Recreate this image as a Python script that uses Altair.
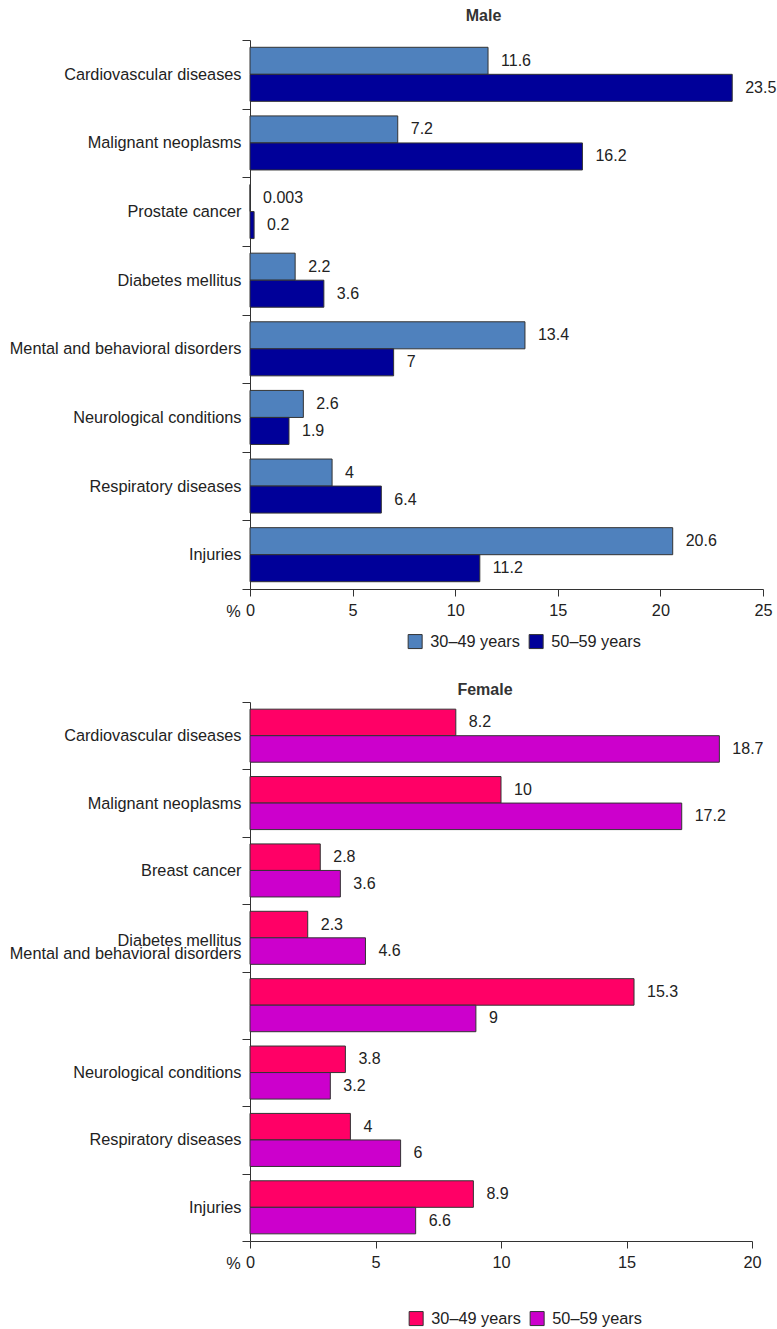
import altair as alt
import pandas as pd

# Causes of disability, share of cases (%) by age group
age_groups = ["30\u201349 years", "50\u201359 years"]

male_categories = [
    "Cardiovascular diseases",
    "Malignant neoplasms",
    "Prostate cancer",
    "Diabetes mellitus",
    "Mental and behavioral disorders",
    "Neurological conditions",
    "Respiratory diseases",
    "Injuries",
]
male_30_49 = [11.6, 7.2, 0.003, 2.2, 13.4, 2.6, 4, 20.6]
male_50_59 = [23.5, 16.2, 0.2, 3.6, 7, 1.9, 6.4, 11.2]

female_categories = [
    "Cardiovascular diseases",
    "Malignant neoplasms",
    "Breast cancer",
    "Diabetes mellitus",
    "Mental and behavioral disorders",
    "Neurological conditions",
    "Respiratory diseases",
    "Injuries",
]
female_30_49 = [8.2, 10, 2.8, 2.3, 15.3, 3.8, 4, 8.9]
female_50_59 = [18.7, 17.2, 3.6, 4.6, 9, 3.2, 6, 6.6]

male_colors = ["#4F81BD", "#000099"]
female_colors = ["#FF0066", "#CC00CC"]

male_ticks = [0, 5, 10, 15, 20, 25]
female_ticks = [0, 5, 10, 15, 20]

FONT = "Liberation Sans"
TEXT = "#222222"
LINE = "#333333"


def frame(categories, young, old):
    rows = []
    for cat, a, b in zip(categories, young, old):
        rows.append({"category": cat, "age": age_groups[0], "value": a, "label": str(a)})
        rows.append({"category": cat, "age": age_groups[1], "value": b, "label": str(b)})
    return pd.DataFrame(rows)


def panel(title, title_dx, title_offset, categories, young, old, colors, ticks,
          width, height, legend_x, legend_y, label_expr=None, label_offset=None):
    df = frame(categories, young, old)
    base = alt.Chart(df)

    y_axis_kwargs = dict(
        title=None,
        tickBand="extent",
        tickSize=8,
        tickColor=LINE,
        domainColor=LINE,
        labelFontSize=16.3,
        labelFont=FONT,
        labelColor=TEXT,
        labelPadding=1,
        labelLimit=400,
        labelLineHeight=13,
    )
    if label_expr is not None:
        y_axis_kwargs["labelExpr"] = label_expr
    if label_offset is not None:
        y_axis_kwargs["labelOffset"] = label_offset

    y = alt.Y(
        "category:N",
        sort=categories,
        scale=alt.Scale(paddingInner=0, paddingOuter=0),
        axis=alt.Axis(**y_axis_kwargs),
    )
    y_off = alt.YOffset(
        "age:N",
        sort=age_groups,
        scale=alt.Scale(paddingInner=0, paddingOuter=0.27),
    )
    x = alt.X(
        "value:Q",
        scale=alt.Scale(domain=[ticks[0], ticks[-1]], nice=False),
        axis=alt.Axis(
            title="%",
            values=ticks,
            grid=False,
            tickSize=7,
            tickColor=LINE,
            domainColor=LINE,
            labelFontSize=16.3,
            labelFont=FONT,
            labelColor=TEXT,
            labelPadding=6,
            labelFlush=False,
            titleFont=FONT,
            titleFontSize=16.3,
            titleFontWeight="normal",
            titleColor=TEXT,
            titleAngle=0,
            titleX=-17,
            titleY=22,
            titleAlign="center",
            titleBaseline="middle",
        ),
    )

    bars = base.mark_bar(stroke=LINE, strokeWidth=1).encode(
        x=x,
        y=y,
        yOffset=y_off,
        color=alt.Color(
            "age:N",
            sort=age_groups,
            scale=alt.Scale(domain=age_groups, range=colors),
            legend=alt.Legend(
                title=None,
                orient="none",
                legendX=legend_x,
                legendY=legend_y,
                direction="horizontal",
                symbolType="square",
                symbolSize=196,
                symbolStrokeColor=LINE,
                symbolStrokeWidth=1,
                labelFont=FONT,
                labelFontSize=16.3,
                labelColor=TEXT,
                labelOffset=7,
                columnPadding=7,
                padding=0,
            ),
        ),
    )

    labels = base.mark_text(
        align="left", baseline="middle", dx=13, fontSize=16, font=FONT, color=TEXT
    ).encode(
        x=alt.X("value:Q"),
        y=alt.Y("category:N", sort=categories),
        yOffset=alt.YOffset("age:N", sort=age_groups),
        text="label:N",
    )

    return alt.layer(bars, labels).properties(
        width=width,
        height=height,
        view=alt.ViewBackground(stroke="transparent", strokeWidth=0),
        title=alt.TitleParams(
            text=title,
            font=FONT,
            fontSize=16,
            fontWeight="bold",
            color=LINE,
            anchor="middle",
            dx=title_dx,
            offset=title_offset,
        ),
    )


male = panel(
    "Male", -23, 8, male_categories, male_30_49, male_50_59, male_colors, male_ticks,
    width=513, height=549, legend_x=157, legend_y=593,
)

# In the female panel the fourth label sits with the third one
female_expr = (
    "datum.value === 'Diabetes mellitus' ? "
    "['Diabetes mellitus', 'Mental and behavioral disorders'] : "
    "(datum.value === 'Mental and behavioral disorders' ? '' : datum.value)"
)
female_offset = {
    "condition": {"test": "datum.value === 'Diabetes mellitus'", "value": 2.5},
    "value": 0,
}

female = panel(
    "Female", -16, -4, female_categories, female_30_49, female_50_59, female_colors,
    female_ticks, width=502, height=539, legend_x=158, legend_y=608,
    label_expr=female_expr, label_offset=female_offset,
)

chart = (
    alt.vconcat(male, female, spacing=31)
    .resolve_scale(color="independent", x="independent", y="independent",
                   yOffset="independent")
    .properties(padding={"left": 9, "top": 8, "right": 0, "bottom": 0})
    .configure_view(stroke="transparent", strokeWidth=0)
    .configure(background="white")
)

chart.save("out.html", embed_options={"renderer": "svg", "actions": False})
